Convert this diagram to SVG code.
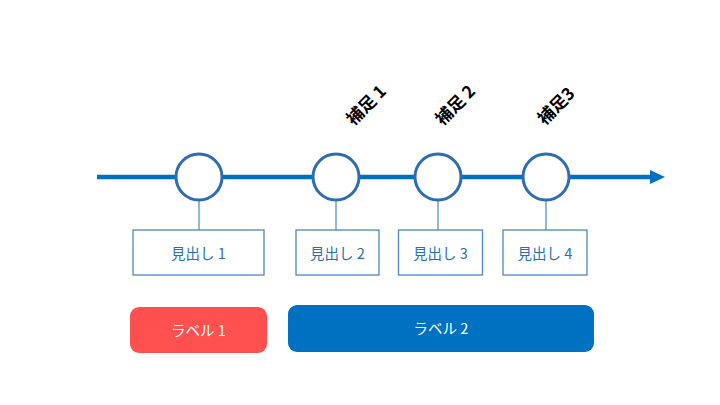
<svg xmlns="http://www.w3.org/2000/svg" width="720" height="405" viewBox="0 0 720 405">
<defs>
<style>
.node circle{fill:#fff;stroke:#2f6db3;stroke-width:3}
.box rect{fill:#fff;stroke:#4a88c4;stroke-width:1.3}
.box text{font-family:"Noto Sans CJK JP","Noto Sans",sans-serif;font-size:14.5px;fill:#2a6fb2;text-anchor:middle;dominant-baseline:central}
.tick{stroke:#4a88c4;stroke-width:1.2}
.note{font-family:"Noto Sans CJK JP","Noto Sans",sans-serif;font-size:17px;font-weight:bold;fill:#000;text-anchor:middle;dominant-baseline:central}
.lbl text{font-family:"Noto Sans CJK JP","Noto Sans",sans-serif;font-size:14.5px;fill:#fff;text-anchor:middle;dominant-baseline:central}
</style>
<marker id="arr" markerUnits="userSpaceOnUse" markerWidth="16" markerHeight="16" refX="0" refY="7" orient="auto">
<path d="M0,0 L15,7 L0,14 Z" fill="#0070c0"/>
</marker>
</defs>
<rect width="720" height="405" fill="#fff"/>
<g id="connectors">
<line x1="97" y1="177" x2="650" y2="177" stroke="#0070c0" stroke-width="4.5" marker-end="url(#arr)"/>
<line class="tick" x1="199" y1="200" x2="199" y2="230"/>
<line class="tick" x1="336" y1="200" x2="336" y2="230"/>
<line class="tick" x1="438" y1="200" x2="438" y2="230"/>
<line class="tick" x1="546" y1="200" x2="546" y2="230"/>
</g>
<g id="n1" class="node"><circle cx="199" cy="177" r="23"/></g>
<g id="n2" class="node"><circle cx="336" cy="177" r="23"/></g>
<g id="n3" class="node"><circle cx="438" cy="177" r="23"/></g>
<g id="n4" class="node"><circle cx="546" cy="177" r="23"/></g>
<g id="b1" class="box"><rect x="133" y="230" width="131" height="45"/><text x="198.5" y="252">見出し 1</text></g>
<g id="b2" class="box"><rect x="296" y="230" width="83" height="45"/><text x="337.5" y="252">見出し 2</text></g>
<g id="b3" class="box"><rect x="398.5" y="230" width="84" height="45"/><text x="440.5" y="252">見出し 3</text></g>
<g id="b4" class="box"><rect x="503" y="230" width="84" height="45"/><text x="545" y="252">見出し 4</text></g>
<g id="s1"><text class="note" transform="translate(365,104) rotate(-45)">補足 1</text></g>
<g id="s2"><text class="note" transform="translate(454,104) rotate(-45)">補足 2</text></g>
<g id="s3"><text class="note" transform="translate(555,105) rotate(-45)">補足3</text></g>
<g id="l1" class="lbl"><rect x="130" y="307" width="137" height="46" rx="9" fill="#ff5050"/><text x="198.5" y="329">ラベル 1</text></g>
<g id="l2" class="lbl"><rect x="288" y="305" width="306" height="47" rx="9" fill="#0070c0"/><text x="441" y="327">ラベル 2</text></g>
</svg>
